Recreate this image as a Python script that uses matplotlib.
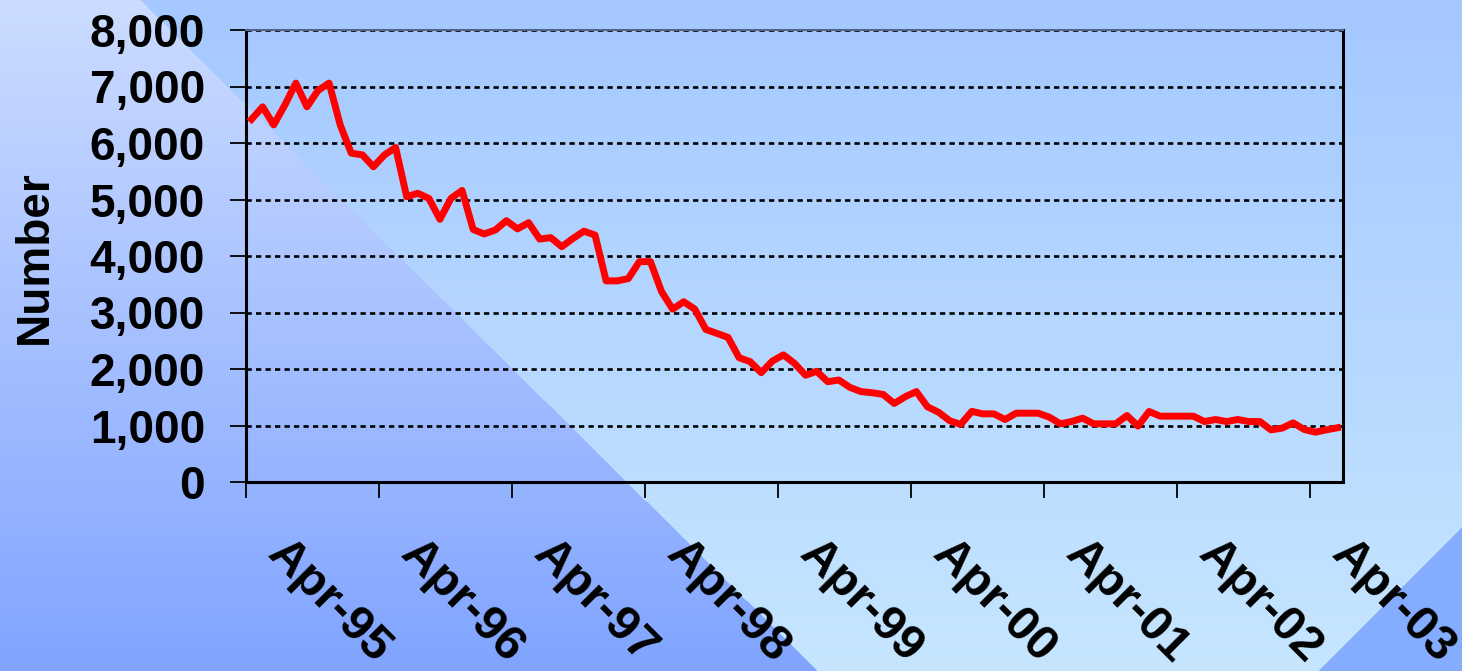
import numpy as np
import matplotlib
matplotlib.use("Agg")
import matplotlib.pyplot as plt
import matplotlib.transforms as mtransforms
from matplotlib.ticker import FuncFormatter

plt.rcParams['font.family'] = ['Liberation Sans', 'DejaVu Sans']

# monthly counts, Apr-95 .. Jun-03
counts = [6420, 6640, 6320, 6670, 7060, 6640, 6930, 7060, 6320, 5820,
          5790, 5580, 5790, 5920, 5050, 5110, 5020, 4650, 5020, 5160,
          4470, 4390, 4460, 4625, 4480, 4590, 4300, 4325, 4165, 4310,
          4440, 4370, 3560, 3560, 3600, 3900, 3900, 3370, 3060, 3190,
          3060, 2700, 2630, 2560, 2200, 2130, 1935, 2140, 2250, 2100,
          1890, 1960, 1775, 1805, 1675, 1600, 1580, 1550, 1390, 1510,
          1600, 1330, 1235, 1085, 1020, 1250, 1206, 1206, 1106, 1218,
          1218, 1218, 1147, 1030, 1070, 1130, 1030, 1030, 1030, 1177,
          990, 1248, 1165, 1165, 1165, 1165, 1070, 1106, 1070, 1106,
          1070, 1070, 923, 953, 1047, 930, 882, 923, 960]
tick_labels = ['Apr-95', 'Apr-96', 'Apr-97', 'Apr-98', 'Apr-99',
               'Apr-00', 'Apr-01', 'Apr-02', 'Apr-03']
y_ticks = [0, 1000, 2000, 3000, 4000, 5000, 6000, 7000, 8000]

W, H = 1462, 671
fig = plt.figure(figsize=(W / 100, H / 100), dpi=100)

# background (two-tone diagonal gradient)
bg = fig.add_axes([0, 0, 1, 1])
yy, xx = np.mgrid[0:H, 0:W].astype(float)
t = yy / (H - 1)
left_top = np.array([0xcc, 0xdc, 0xff]) / 255
left_bot = np.array([0x80, 0xa4, 0xff]) / 255
right_top = np.array([0xa4, 0xc8, 0xff]) / 255
right_bot = np.array([0xc6, 0xe6, 0xff]) / 255
corner = np.array([0x84, 0xac, 0xff]) / 255
left = left_top + (left_bot - left_top) * t[..., None]
right = right_top + (right_bot - right_top) * t[..., None]
img = np.where((xx < 140 + 1.01 * yy)[..., None], left, right)
img[xx + yy > 1988] = corner
bg.imshow(img, aspect='auto', interpolation='bilinear')
bg.axis('off')

# main chart
ax = fig.add_axes([246 / W, 1 - 482 / H, (1343 - 246) / W, (482 - 30) / H])
ax.patch.set_alpha(0)

x = np.arange(len(counts)) + 0.5
ax.plot(x, counts, color='#ff0000', lw=5, solid_joinstyle='round', zorder=3)

ax.set_xlim(0, len(counts))
ax.set_ylim(0, 8000)
ax.set_yticks(y_ticks)
ax.yaxis.set_major_formatter(FuncFormatter(lambda v, p: f'{int(v):,}'))
ax.set_xticks(np.arange(len(tick_labels)) * 12)
ax.set_xticklabels(tick_labels)

ax.grid(axis='y', color='black', linestyle=(0, (2, 1.6)), lw=1.9, zorder=1)
ax.set_axisbelow(True)

for s in ['left', 'bottom', 'right']:
    ax.spines[s].set_linewidth(2.2)
    ax.spines[s].set_color('black')
ax.spines['top'].set_linewidth(1.5)
ax.spines['top'].set_color('#55658a')

ax.tick_params(axis='y', direction='out', length=11.5, width=1.3,
               pad=18, labelsize=33)
ax.tick_params(axis='x', direction='out', length=11.5, width=1.3,
               pad=24, labelsize=35)
for lab in ax.get_yticklabels():
    lab.set_fontweight('bold')
offset = mtransforms.ScaledTranslation(0.13, 0, fig.dpi_scale_trans)
for lab in ax.get_xticklabels():
    lab.set_fontweight('bold')
    lab.set_rotation(-45)
    lab.set_ha('left')
    lab.set_va('top')
    lab.set_transform(lab.get_transform() + offset)

fig.text(35 / W, 1 - 257 / H, 'Number', rotation=90, fontsize=33,
         fontweight='bold', ha='center', va='center')

fig.savefig('out.png', dpi=100)
